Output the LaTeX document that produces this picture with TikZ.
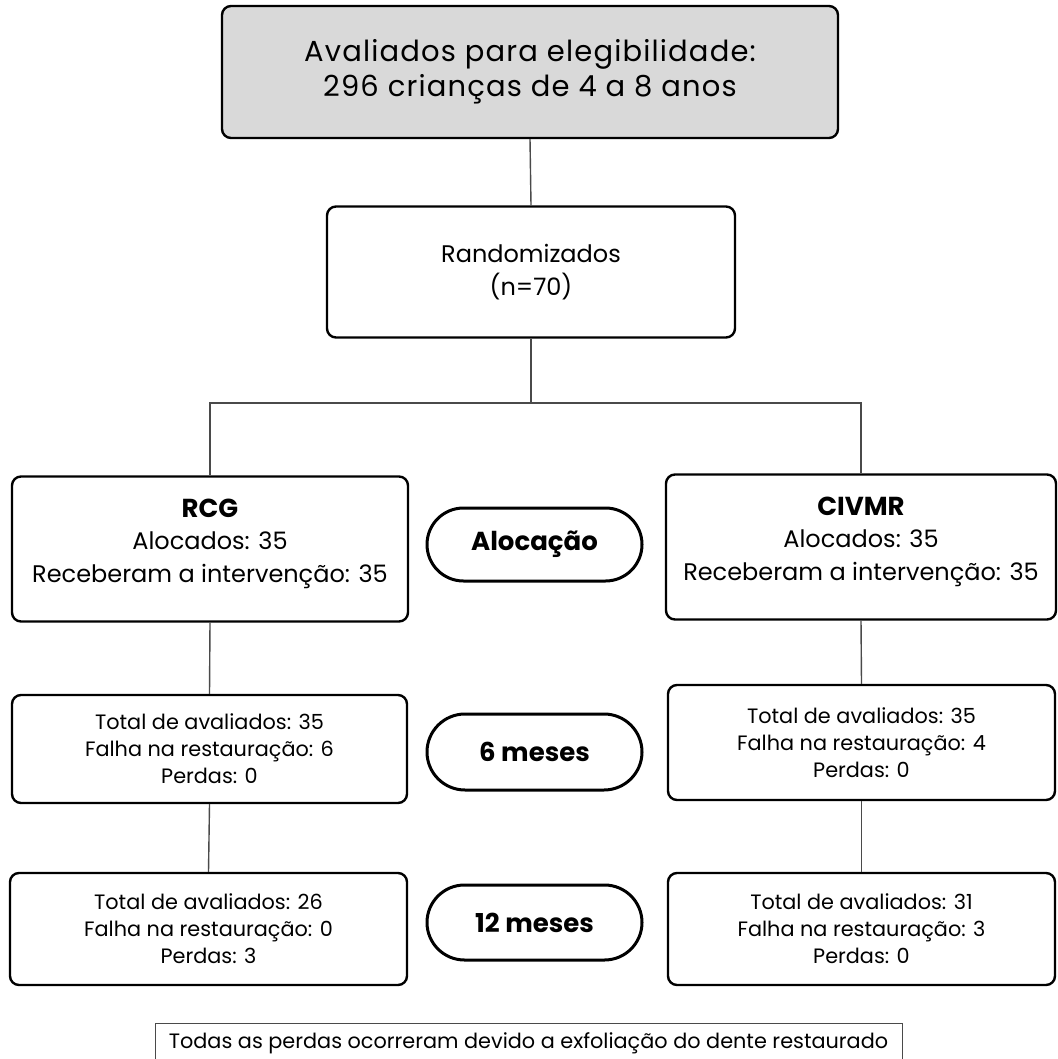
\documentclass[tikz,border=0pt]{standalone}
\usepackage{fontspec}
\setmainfont{Poppins}
\newfontfamily\headfont[LetterSpace=4]{Poppins}
\usepackage{xcolor}
\usetikzlibrary{shapes,shapes.misc,calc}
\definecolor{headgray}{HTML}{D9D9D9}
\definecolor{linkgray}{HTML}{4A4A4A}
\tikzstyle{box}=[draw=black, line width=2.4pt, rounded corners=9pt, align=center, inner sep=0pt]
\tikzstyle{pill}=[draw=black, line width=3pt, rounded rectangle, align=center, inner sep=0pt, minimum width=215pt]
\tikzstyle{link}=[draw=linkgray, line width=1.4pt]
\newcommand{\txtA}{\fontsize{29}{35}\selectfont}
\newcommand{\txtB}{\fontsize{24}{32.5}\selectfont}
\newcommand{\txtC}{\fontsize{20.8}{27}\selectfont}
\newcommand{\txtD}{\fontsize{26}{32}\selectfont\bfseries}

\begin{document}
\begin{tikzpicture}[x=1pt,y=-1pt]
\clip (0,0) rectangle (1057,1059);
\fill[white] (0,0) rectangle (1057,1059);
% boxes
\node[box, fill=headgray, minimum width=616pt, minimum height=132pt, font=\headfont\txtA] (eleg) at (530,72)
	{Avaliados para elegibilidade:\\296 crianças de 4 a 8 anos};
\node[box, minimum width=408pt, minimum height=131pt, font=\txtB] (rand) at (531,272)
	{Randomizados\\(n=70)};
\node[box, minimum width=396pt, minimum height=145pt, font=\txtB] (rcg) at (210,549)
	{{\txtD RCG}\\Alocados: 35\\Receberam a intervenção: 35\\[-16pt]};
\node[box, minimum width=390pt, minimum height=145pt, font=\txtB] (civ) at (861,547)
	{{\txtD CIVMR}\\Alocados: 35\\Receberam a intervenção: 35\\[-16pt]};
\node[pill, minimum height=73pt, font=\txtD] (aloc) at (534.5,544.5) {Alocação};
\node[box, minimum width=395pt, minimum height=108pt, font=\txtC] (rcg6) at (209.5,749)
	{Total de avaliados: 35\\Falha na restauração: 6\\Perdas: 0};
\node[pill, minimum height=76pt, font=\txtD] (mes6) at (534.5,752) {6 meses};
\node[box, minimum width=387pt, minimum height=115pt, font=\txtC] (civ6) at (861.5,742.5)
	{Total de avaliados: 35\\Falha na restauração: 4\\Perdas: 0};
\node[box, minimum width=397pt, minimum height=112pt, font=\txtC] (rcg12) at (208.5,929)
	{Total de avaliados: 26\\Falha na restauração: 0\\Perdas: 3};
\node[pill, minimum height=75pt, font=\txtD] (mes12) at (534.5,922.5) {12 meses};
\node[box, minimum width=387pt, minimum height=112pt, font=\txtC] (civ12) at (861.5,929)
	{Total de avaliados: 31\\Falha na restauração: 3\\Perdas: 0};
\node[draw=linkgray, line width=1pt, minimum width=747pt, minimum height=60pt, anchor=north, inner sep=0pt] (nota) at (528.5,1023) {};
\node[font=\txtC] (notatxt) at (528.5,1043) {Todas as perdas ocorreram devido a exfoliação do dente restaurado};
% links
\coordinate (split) at (rand.south |- 0,403);
\draw[link] (eleg.south) -- (rand.north);
\draw[link] (rand.south) -- (split);
\draw[link] (split) -| (rcg.north);
\draw[link] (split) -| (civ.north);
\draw[link] (rcg.south) -- (rcg6.north);
\draw[link] (rcg6.south) -- (rcg12.north);
\draw[link] (civ.south) -- (civ6.north);
\draw[link] (civ6.south) -- (civ12.north);
\end{tikzpicture}
\end{document}
